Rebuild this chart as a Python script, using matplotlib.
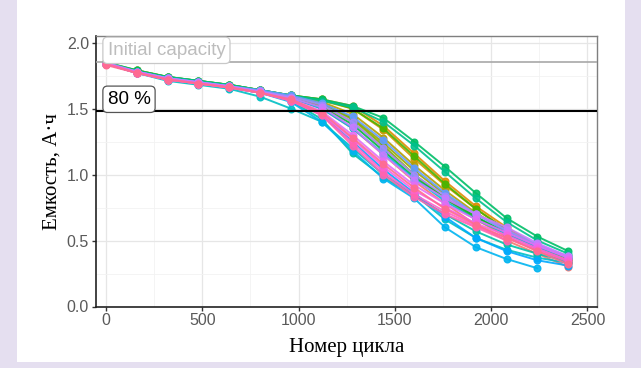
import numpy as np
import matplotlib
matplotlib.use("Agg")
import matplotlib.pyplot as plt
from matplotlib.patches import Rectangle

# cycle numbers where capacity was measured
cycles = [0, 160, 320, 480, 640, 800, 960, 1120, 1280, 1440, 1600, 1760, 1920, 2080, 2240, 2400]

# capacity of each cell, A*h
cap_01 = [1.84, 1.78, 1.73, 1.70, 1.67, 1.63, 1.58, 1.50, 1.35, 1.15, 0.95, 0.78, 0.62, 0.50, 0.40, 0.30]
cap_02 = [1.85, 1.78, 1.73, 1.69, 1.67, 1.63, 1.59, 1.52, 1.40, 1.20, 1.00, 0.82, 0.66, 0.53, 0.42, 0.33]
cap_03 = [1.84, 1.79, 1.74, 1.71, 1.68, 1.64, 1.60, 1.57, 1.52, 1.37, 1.16, 0.95, 0.76, 0.60, 0.46, 0.35]
cap_04 = [1.84, 1.78, 1.74, 1.70, 1.68, 1.64, 1.60, 1.56, 1.50, 1.34, 1.12, 0.92, 0.74, 0.58, 0.45, 0.36]
cap_05 = [1.85, 1.78, 1.73, 1.70, 1.67, 1.64, 1.59, 1.55, 1.46, 1.28, 1.07, 0.88, 0.71, 0.57, 0.45, 0.35]
cap_06 = [1.84, 1.77, 1.73, 1.70, 1.67, 1.63, 1.59, 1.54, 1.43, 1.24, 1.03, 0.85, 0.68, 0.55, 0.44, 0.34]
cap_07 = [1.84, 1.78, 1.73, 1.70, 1.67, 1.64, 1.59, 1.53, 1.42, 1.22, 1.00, 0.82, 0.67, 0.55, 0.45, 0.36]
cap_08 = [1.85, 1.79, 1.74, 1.71, 1.68, 1.64, 1.60, 1.57, 1.50, 1.35, 1.14, 0.93, 0.74, 0.58, 0.46, 0.37]
cap_09 = [1.84, 1.78, 1.73, 1.70, 1.67, 1.63, 1.58, 1.51, 1.38, 1.18, 0.98, 0.82, 0.68, 0.56, 0.46, 0.38]
cap_10 = [1.85, 1.79, 1.74, 1.71, 1.68, 1.64, 1.60, 1.57, 1.52, 1.43, 1.25, 1.06, 0.86, 0.67, 0.53, 0.42]
cap_11 = [1.84, 1.78, 1.74, 1.71, 1.68, 1.64, 1.60, 1.56, 1.51, 1.40, 1.22, 1.02, 0.82, 0.64, 0.50, 0.40]
cap_12 = [1.84, 1.77, 1.72, 1.69, 1.66, 1.62, 1.56, 1.42, 1.16, 0.98, 0.84, 0.70, 0.57, 0.47, 0.40, 0.34]
cap_13 = [1.84, 1.77, 1.71, 1.68, 1.65, 1.59, 1.50, 1.40, 1.20, 1.00, 0.85, 0.66, 0.52, 0.43, 0.37, 0.33]
cap_14 = [1.84, 1.78, 1.73, 1.70, 1.67, 1.63, 1.58, 1.50, 1.35, 1.16, 0.97, 0.80, 0.66, 0.55, 0.45, 0.37]
cap_15 = [1.84, 1.77, 1.72, 1.69, 1.66, 1.62, 1.55, 1.40, 1.18, 0.97, 0.82, 0.60, 0.45, 0.36, 0.29]
cap_16 = [1.84, 1.78, 1.72, 1.69, 1.66, 1.62, 1.57, 1.45, 1.25, 1.04, 0.86, 0.68, 0.52, 0.42, 0.35, 0.31]
cap_17 = [1.84, 1.78, 1.73, 1.70, 1.67, 1.64, 1.60, 1.54, 1.44, 1.26, 1.05, 0.86, 0.70, 0.57, 0.46, 0.37]
cap_18 = [1.85, 1.78, 1.73, 1.70, 1.67, 1.63, 1.59, 1.53, 1.40, 1.20, 1.00, 0.84, 0.70, 0.58, 0.47, 0.38]
cap_19 = [1.84, 1.78, 1.73, 1.70, 1.67, 1.63, 1.58, 1.51, 1.36, 1.15, 0.96, 0.82, 0.70, 0.60, 0.48, 0.38]
cap_20 = [1.84, 1.77, 1.72, 1.69, 1.66, 1.62, 1.57, 1.48, 1.30, 1.10, 0.92, 0.78, 0.66, 0.56, 0.46, 0.37]
cap_21 = [1.84, 1.77, 1.72, 1.69, 1.66, 1.62, 1.56, 1.46, 1.27, 1.06, 0.88, 0.75, 0.63, 0.54, 0.44, 0.35]
cap_22 = [1.84, 1.77, 1.72, 1.69, 1.66, 1.62, 1.56, 1.45, 1.24, 1.02, 0.85, 0.72, 0.61, 0.52, 0.43, 0.34]
cap_23 = [1.84, 1.77, 1.72, 1.69, 1.66, 1.62, 1.56, 1.45, 1.22, 1.00, 0.83, 0.70, 0.60, 0.50]
cap_24 = [1.83, 1.77, 1.72, 1.69, 1.66, 1.62, 1.57, 1.47, 1.28, 1.08, 0.90, 0.74, 0.62, 0.52, 0.42, 0.32]

cells = [cap_01, cap_02, cap_03, cap_04, cap_05, cap_06, cap_07, cap_08,
         cap_09, cap_10, cap_11, cap_12, cap_13, cap_14, cap_15, cap_16,
         cap_17, cap_18, cap_19, cap_20, cap_21, cap_22, cap_23, cap_24]

initial_capacity = 1.855
limit_80 = 0.8 * initial_capacity


#ggplot-like hue palette (polar LUV -> sRGB)
def hcl_color(h, c=100, l=65):
    hr = np.radians(h)
    u = c*np.cos(hr)
    v = c*np.sin(hr)
    Xn, Yn, Zn = 95.047, 100.0, 108.883
    Y = Yn*((l+16)/116)**3
    un = 4*Xn/(Xn+15*Yn+3*Zn)
    vn = 9*Yn/(Xn+15*Yn+3*Zn)
    up = u/(13*l)+un
    vp = v/(13*l)+vn
    X = Y*9*up/(4*vp)
    Z = Y*(12-3*up-20*vp)/(4*vp)
    X, Y, Z = X/100, Y/100, Z/100
    r = 3.2404542*X - 1.5371385*Y - 0.4985314*Z
    g = -0.9692660*X + 1.8760108*Y + 0.0415560*Z
    b = 0.0556434*X - 0.2040259*Y + 1.0572252*Z
    out = []
    for ch in (r, g, b):
        ch = min(max(ch, 0), 1)
        ch = 12.92*ch if ch <= 0.0031308 else 1.055*ch**(1/2.4)-0.055
        out.append(min(max(ch, 0), 1))
    return tuple(out)

n = len(cells)
colors = [hcl_color(15 + 360*i/n) for i in range(n)]

sans = ["Liberation Sans Narrow", "Liberation Sans", "DejaVu Sans"]

fig = plt.figure(figsize=(6.41, 3.68), dpi=100)
fig.patch.set_facecolor("#e5dff0")
# white slide panel
fig.patches.append(Rectangle((17/641, 6/368), 608/641, 362/368, transform=fig.transFigure,
                             facecolor="white", edgecolor="none", zorder=-5))

ax = fig.add_axes([96/641, 61.5/368, 500.5/641, 270.5/368])
ax.set_zorder(2)
ax.set_facecolor("white")

for vals, col in zip(cells, colors):
    ax.plot(cycles[:len(vals)], vals, color=col, lw=1.4, marker="o", ms=4.8, alpha=0.9)

ax.axhline(initial_capacity, color="#a8a8a8", lw=1.2, zorder=3)
ax.axhline(limit_80, color="black", lw=1.5, zorder=3)

ax.text(8, initial_capacity + 0.022, "Initial capacity", color="#bdbdbd", fontsize=13.5,
        family=sans, va="bottom", ha="left", zorder=4,
        bbox=dict(boxstyle="round,pad=0.25,rounding_size=0.25", fc="white", ec="#c8c8c8", lw=0.9))
ax.text(8, limit_80 + 0.022, "80 %", color="black", fontsize=13.5,
        family=sans, va="bottom", ha="left", zorder=4,
        bbox=dict(boxstyle="round,pad=0.25,rounding_size=0.25", fc="white", ec="#555555", lw=0.9))

ax.set_xlim(-52, 2547)
ax.set_ylim(0, 2.05)
ax.set_xticks([0, 500, 1000, 1500, 2000, 2500])
ax.set_yticks([0.0, 0.5, 1.0, 1.5, 2.0])
ax.set_yticklabels(["0.0", "0.5", "1.0", "1.5", "2.0"])
ax.set_xticks([250, 750, 1250, 1750, 2250], minor=True)
ax.set_yticks([0.25, 0.75, 1.25, 1.75], minor=True)
ax.grid(True, which="major", color="#e6e6e6", lw=0.9)
ax.grid(True, which="minor", color="#f2f2f2", lw=0.6)
ax.set_axisbelow(True)
ax.tick_params(which="minor", length=0)
ax.tick_params(which="major", length=3, width=1, color="#333333", labelsize=11.5,
               labelcolor="#5a5a5a", pad=2)
for lab in ax.get_xticklabels() + ax.get_yticklabels():
    lab.set_family(sans)

for side in ["top", "right"]:
    ax.spines[side].set_color("#7f7f7f")
    ax.spines[side].set_linewidth(1.0)
for side in ["left", "bottom"]:
    ax.spines[side].set_color("#222222")
    ax.spines[side].set_linewidth(1.2)

ax.set_xlabel("Номер цикла", family="Liberation Serif", fontsize=15, labelpad=7)
ax.set_ylabel("Емкость, А·ч", family="Liberation Serif", fontsize=15, labelpad=4)

fig.savefig("out.png", dpi=100, facecolor=fig.get_facecolor())
